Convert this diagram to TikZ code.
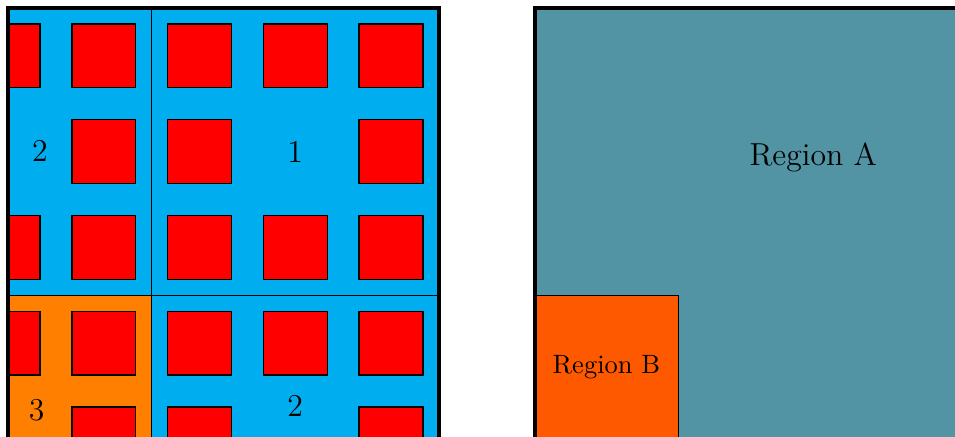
\documentclass[tikz,border=0pt]{standalone}
\begin{document}
\definecolor{cellblue}{RGB}{0,174,239}
\definecolor{cellorange}{RGB}{255,128,0}
\definecolor{regionA}{RGB}{82,148,163}
\definecolor{regionB}{RGB}{255,89,0}
\begin{tikzpicture}[x=1.27cm,y=1.27cm,
  thinedge/.style={draw=black,line width=0.5pt},
  frame/.style={draw=black,line width=1.5pt},
  cell/.style={thinedge,fill=red},
  numlbl/.style={font=\large,inner sep=0pt},
  lbl/.style={font=\normalsize,inner sep=0pt},
  biglbl/.style={font=\large,inner sep=0pt}]
\useasboundingbox (-0.0836,0.0836) rectangle (9.890,-4.470);

% left panel: four regions
\filldraw[thinedge,fill=cellblue] (0,0) rectangle (1.5,-3);
\filldraw[thinedge,fill=cellblue] (1.5,0) rectangle (4.5,-3);
\filldraw[thinedge,fill=cellorange] (0,-3) rectangle (1.5,-6);
\filldraw[thinedge,fill=cellblue] (1.5,-3) rectangle (4.5,-6);

% grid of red squares, clipped to the panel; the labelled spots stay empty
\begin{scope}
  \clip (0,0) rectangle (4.5,-6);
  \foreach \i in {0,...,4}
    \foreach \j in {0,...,4}{
      \pgfmathtruncatemacro{\skip}{(\j==1 || \j==4) && (\i==0 || \i==3) ? 1 : 0}
      \ifnum\skip=0
        \filldraw[cell] (\i-1/3,-\j-0.5+1/3) rectangle (\i+1/3,-\j-0.5-1/3);
      \fi
    }
\end{scope}

\node[numlbl] (tl) at (0.334,-1.49) {2};
\node[numlbl] (tr) at (3.0,-1.50) {1};
\node[numlbl] (bl) at (0.30,-4.20) {3};
\node[numlbl] (br) at (3.0,-4.16) {2};

\draw[frame] (0,-6) -- (0,0) -- (4.5,0) -- (4.5,-6);

% right panel
\fill[regionA] (5.5,0) rectangle (11,-6);
\filldraw[thinedge,fill=regionB] (5.5,-3) rectangle (7,-6);
\node[biglbl] (ra) at (8.41,-1.56) {Region A};
\node[lbl] (rb) at (6.25,-3.75) {Region B};
\draw[frame] (5.5,-6) -- (5.5,0) -- (11,0);
\end{tikzpicture}
\end{document}
